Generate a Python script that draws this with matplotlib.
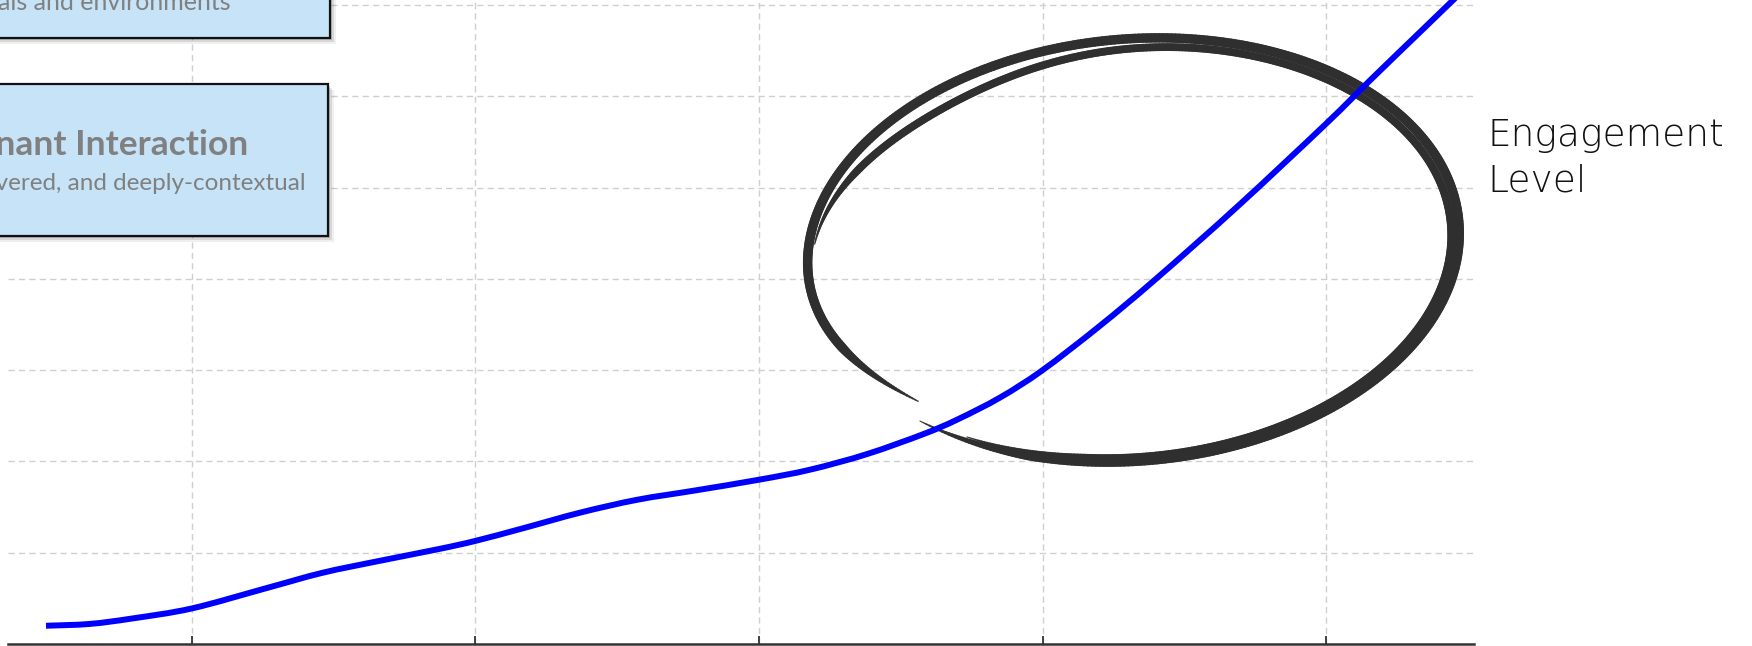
import numpy as np
import matplotlib
matplotlib.use('Agg')
import matplotlib.pyplot as plt
from matplotlib.collections import LineCollection
from matplotlib.patches import Rectangle, PathPatch
from matplotlib.path import Path

W, H = 1752, 646

level_x = [0.485, 0.64, 0.79, 1.0, 1.26, 1.46, 1.66, 1.87, 2.0, 2.17, 2.37, 2.57,
           2.77, 3.0, 3.18, 3.38, 3.58, 3.70, 3.85, 4.0, 4.2, 4.4, 4.69, 5.0,
           5.16, 5.33, 5.47]
level_y = [0.20, 0.22, 0.28, 0.39, 0.61, 0.78, 0.91, 1.04, 1.13, 1.27, 1.44, 1.58,
           1.68, 1.80, 1.91, 2.08, 2.30, 2.46, 2.70, 3.0, 3.48, 4.0, 4.8, 5.7,
           6.19, 6.7, 7.12]
grid_x = [1, 2, 3, 4, 5]
grid_y = [1, 2, 3, 4, 5, 6, 7]

box_titles = ['Adapts to individuals and environments', 'Resonant Interaction']
box_subtitle = 'Personalized, delivered, and deeply-contextual'
side_label = ['Engagement', 'Level']


def px_rect(left, top, right, bottom):
    # pixel box (origin top-left) -> figure fractions
    return [left / W, 1 - bottom / H, (right - left) / W, (bottom - top) / H]


def to_fig(x, y):
    return np.column_stack([np.asarray(x) / W, 1 - np.asarray(y) / H])


def smooth_path(xs, ys):
    # cubic bezier through the points (catmull-rom tangents)
    p = np.column_stack([xs, ys])
    verts = [p[0]]
    codes = [Path.MOVETO]
    for i in range(len(p) - 1):
        p0 = p[max(i - 1, 0)]
        p3 = p[min(i + 2, len(p) - 1)]
        c1 = p[i] + (p[i + 1] - p0) / 6
        c2 = p[i + 1] - (p3 - p[i]) / 6
        verts += [c1, c2, p[i + 1]]
        codes += [Path.CURVE4] * 3
    return Path(verts, codes)


fig = plt.figure(figsize=(W / 100, H / 100), dpi=100)
fig.patch.set_facecolor('white')

ax = fig.add_axes(px_rect(8, -4, 1474, 644))
ax.set_xlim(0.351, 5.522)
ax.set_ylim(0, 7.10)
ax.set_xticks(grid_x)
ax.set_yticks(grid_y)
ax.grid(True, color='#cfcfcf', linestyle=(0, (4.5, 3)), linewidth=1.0)
ax.tick_params(axis='x', direction='in', length=6, width=1.3, color='#333333',
               labelbottom=False)
ax.tick_params(axis='y', length=0, labelleft=False)
for side in ['left', 'top', 'right']:
    ax.spines[side].set_visible(False)
ax.spines['bottom'].set_color('#333333')
ax.spines['bottom'].set_linewidth(1.8)

ax.add_patch(PathPatch(smooth_path(level_x, level_y), facecolor='none',
                       edgecolor='#0000ff', linewidth=4.3, capstyle='butt',
                       zorder=5))


# hand-drawn loop around the steep part of the curve
def pencil_stroke(phi0, phi1, cx, cy, a, b, tilt, width, dents=(), taper=22):
    phi = np.radians(np.linspace(phi0, phi1, 500))
    deg = np.degrees(phi)
    scale = np.ones_like(phi)
    for centre, depth, spread in dents:
        scale -= depth * np.exp(-((deg - centre) / spread) ** 2)
    t = np.radians(tilt)
    ex = a * scale * np.cos(phi)
    ey = b * scale * np.sin(phi)
    x = cx + ex * np.cos(t) - ey * np.sin(t)
    y = cy - (ex * np.sin(t) + ey * np.cos(t))
    pts = to_fig(x, y)
    segs = np.stack([pts[:-1], pts[1:]], axis=1)
    d = deg[:-1]
    ramp = np.minimum(1, np.minimum(d - phi0, phi1 - d) / taper)
    widths = 0.8 + (width - 0.8) * np.clip(ramp, 0, 1)
    lc = LineCollection(segs, linewidths=widths, colors='#2f2f2f',
                        transform=fig.transFigure, clip_on=False, zorder=4,
                        capstyle='round', alpha=0.95)
    ax.add_collection(lc)


pencil_stroke(226, 582, 1133, 250, 327, 211, 5, 6.8,
              dents=[(590, 0.07, 30)])
pencil_stroke(236, 530, 1131, 252, 321, 205, 5, 5.6,
              dents=[(485, 0.05, 30)])

# overlay for boxes and labels
ov = fig.add_axes([0, 0, 1, 1])
ov.set_xlim(0, W)
ov.set_ylim(H, 0)
ov.axis('off')

box_fill = '#c6e3f7'
grey_text = '#808080'
for (l, t, r, b) in [(-20, -60, 330, 38), (-20, 84, 328, 236)]:
    for k, alpha in [(6, 0.06), (4, 0.10), (2, 0.16)]:
        ov.add_patch(Rectangle((l + k, t + k), r - l, b - t, facecolor='#000000',
                               edgecolor='none', alpha=alpha))
    ov.add_patch(Rectangle((l, t), r - l, b - t, facecolor=box_fill,
                           edgecolor='#111111', linewidth=1.6))

ov.text(231, 10, box_titles[0], ha='right', va='baseline', fontsize=18,
        family='Lato', color=grey_text)
ov.text(248, 155, box_titles[1], ha='right', va='baseline', fontsize=25.5,
        family='Lato', fontweight='bold', color=grey_text)
ov.text(306, 190, box_subtitle, ha='right', va='baseline', fontsize=17.5,
        family='Lato', color=grey_text)

ov.text(1487, 146, side_label[0], ha='left', va='baseline', fontsize=27,
        family='DejaVu Sans', fontweight='light', color='#111111')
ov.text(1487, 192, side_label[1], ha='left', va='baseline', fontsize=27,
        family='DejaVu Sans', fontweight='light', color='#111111')

fig.savefig('out.png', dpi=100)
